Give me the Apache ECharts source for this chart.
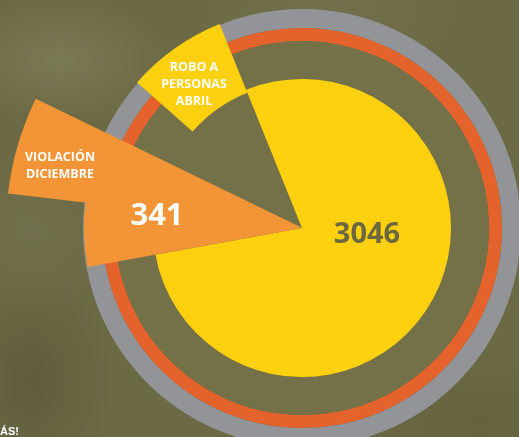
<!DOCTYPE html>
<html>
<head>
<meta charset="utf-8">
<script src="https://cdn.jsdelivr.net/npm/echarts@6/dist/echarts.min.js"></script>
<style>
html,body{margin:0;padding:0;width:519px;height:437px;overflow:hidden;}
body{
  background-color:#6c6a45;
  background-image:
    radial-gradient(ellipse 160px 90px at 60px 60px, rgba(140,140,105,0.45), rgba(140,140,105,0) 70%),
    radial-gradient(ellipse 140px 120px at 30px 230px, rgba(120,120,90,0.35), rgba(120,120,90,0) 70%),
    radial-gradient(ellipse 200px 120px at 330px 10px, rgba(125,125,90,0.35), rgba(125,125,90,0) 70%),
    radial-gradient(ellipse 120px 160px at 30px 380px, rgba(80,75,50,0.45), rgba(80,75,50,0) 70%),
    radial-gradient(ellipse 200px 100px at 480px 420px, rgba(90,85,55,0.4), rgba(90,85,55,0) 70%);
}
#c{width:519px;height:437px;}
</style>
</head>
<body>
<div id="c"></div>
<script>
// Slices in clockwise order starting at the upper edge of the yellow disc
const categories = ['RESTO', 'VIOLACIÓN DICIEMBRE', 'OTROS', 'ROBO A PERSONAS ABRIL'];
const values = [2650, 341, 146, 250];          // first + third + fourth = 3046
const totalLabels = ['3046', '341'];
const wedgeLabels = ['VIOLACIÓN\nDICIEMBRE', 'ROBO A\nPERSONAS\nABRIL'];
const footText = 'ÁS!';

const T = 'rgba(0,0,0,0)';
const YELLOW = '#ffd00e', OLIVE = '#747149', ORANGE = '#f39536', RING = '#e4622b', GRAY = '#939498';
const center = [302, 228];
const startAngle = 112;
const sum = values.reduce((a, b) => a + b, 0);

function sliceData(colors) {
  return categories.map((n, i) => ({ name: n, value: values[i], itemStyle: { color: colors[i] } }));
}
const base = { type: 'pie', center: center, startAngle: startAngle, silent: true, animation: false,
  label: { show: false }, labelLine: { show: false }, itemStyle: { borderWidth: 0 } };

// label tab: upper part of the violación slice reaching further out
const tabFrac = 0.53;
const tabStart = startAngle - (values[0] + values[1] * (1 - tabFrac)) / sum * 360;

const chart = echarts.init(document.getElementById('c'), null, { renderer: 'canvas' });
chart.setOption({
  backgroundColor: 'transparent',
  series: [
    Object.assign({}, base, { radius: [200, 219], data: [{ value: 1, itemStyle: { color: GRAY } }] }),
    Object.assign({}, base, { radius: [187, 200], data: [{ value: 1, itemStyle: { color: RING } }] }),
    Object.assign({}, base, { radius: [0, 187], data: [{ value: 1, itemStyle: { color: OLIVE } }] }),
    Object.assign({}, base, { radius: [0, 149], data: sliceData([YELLOW, T, T, T]) }),
    Object.assign({}, base, { radius: [146, 220], data: sliceData([T, T, T, YELLOW]) }),
    Object.assign({}, base, { radius: [0, 218], data: sliceData([T, ORANGE, T, T]) }),
    Object.assign({}, base, { radius: [0, 296], startAngle: tabStart,
      data: [{ value: values[1] * tabFrac, itemStyle: { color: ORANGE } },
             { value: sum - values[1] * tabFrac, itemStyle: { color: T } }] })
  ],
  graphic: { elements: [
    { type: 'text', z: 100, x: 367, y: 235, silent: true, style: { text: totalLabels[0], fill: '#6b6840',
      font: 'bold 29px "Open Sans", sans-serif', align: 'center', verticalAlign: 'middle' } },
    { type: 'text', z: 100, x: 157, y: 216, silent: true, style: { text: totalLabels[1], fill: '#ffffff',
      font: 'bold 31px "Open Sans", sans-serif', align: 'center', verticalAlign: 'middle' } },
    { type: 'text', z: 100, x: 60, y: 166, silent: true, style: { text: wedgeLabels[0], fill: '#ffffff',
      font: 'bold 12.5px "Open Sans", sans-serif', lineHeight: 17, align: 'center', verticalAlign: 'middle' } },
    { type: 'text', z: 100, x: 194, y: 84, silent: true, style: { text: wedgeLabels[1], fill: '#ffffff',
      font: 'bold 12.5px "Open Sans", sans-serif', lineHeight: 17, align: 'center', verticalAlign: 'middle' } },
    { type: 'text', z: 100, x: 0, y: 426, silent: true, style: { text: footText, fill: '#ffffff',
      font: 'bold 11px "Liberation Sans", sans-serif', align: 'left', verticalAlign: 'top' } }
  ] }
});
</script>
</body>
</html>
